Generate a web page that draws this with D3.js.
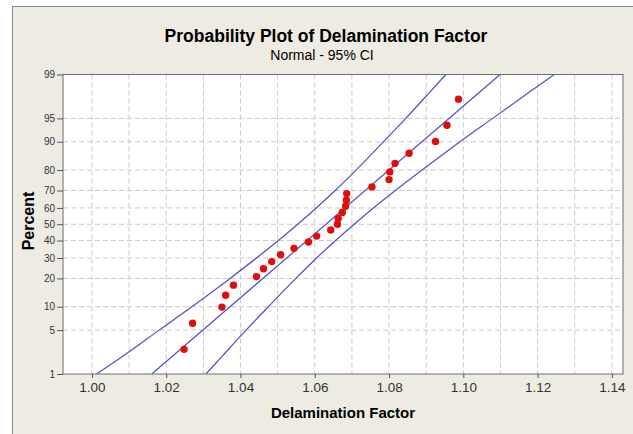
<!DOCTYPE html>
<html>
<head>
<meta charset="utf-8">
<script src="https://cdn.jsdelivr.net/npm/d3@7"></script>
<style>
  body { margin: 0; background: #fff; }
  text { font-family: "Liberation Sans", Arial, sans-serif; }
</style>
</head>
<body>
<div id="chart"></div>
<script>
const delam = [1.0248, 1.0271, 1.0350, 1.0360, 1.0381, 1.0443, 1.0462, 1.0484, 1.0508,
               1.0544, 1.0583, 1.0605, 1.0643, 1.0661, 1.0663, 1.0674, 1.0683, 1.0685,
               1.0686, 1.0754, 1.0800, 1.0802, 1.0816, 1.0854, 1.0925, 1.0956, 1.0987];
// percent position of each point
const pointPct = [2.6, 6.2, 9.9, 13.5, 17.2, 20.8, 24.5, 28.1, 31.8, 35.4, 39.1, 42.7, 46.4, 50.0,
                  53.6, 57.3, 61.0, 64.6, 68.3, 71.9, 75.6, 79.2, 82.8, 86.5, 90.1, 93.8, 97.4];

// fitted line ends
const fitPct = [1, 99];
const fitX = [1.0161, 1.1099];

// 95% CI bands
const bandPct = [1, 2, 5, 10, 20, 30, 40, 50, 60, 70, 80, 90, 95, 98, 99];
const lowerX = [1.0012, 1.0082, 1.0181, 1.0269, 1.0372, 1.0443, 1.0502, 1.0554, 1.0604,
                1.0655, 1.0711, 1.0785, 1.0845, 1.0910, 1.0953];
const upperX = [1.0307, 1.0350, 1.0415, 1.0475, 1.0549, 1.0605, 1.0656, 1.0706, 1.0758,
                1.0817, 1.0889, 1.0991, 1.1079, 1.1178, 1.1245];

const yTicks = [1, 5, 10, 20, 30, 40, 50, 60, 70, 80, 90, 95, 99];
const xTicks = [1.00, 1.02, 1.04, 1.06, 1.08, 1.10, 1.12, 1.14];

// inverse normal cdf (Acklam)
function probit(p){
    const a=[-3.969683028665376e+01,2.209460984245205e+02,-2.759285104469687e+02,1.383577518672690e+02,-3.066479806614716e+01,2.506628277459239e+00];
    const b=[-5.447609879822406e+01,1.615858368580409e+02,-1.556989798598866e+02,6.680131188771972e+01,-1.328068155288572e+01];
    const c=[-7.784894002430293e-03,-3.223964580411365e-01,-2.400758277161838e+00,-2.549732539343734e+00,4.374664141464968e+00,2.938163982698783e+00];
    const d=[7.784695709041462e-03,3.224671290700398e-01,2.445134137142996e+00,3.754408661907416e+00];
    let q, r;
    if (p < 0.02425) {
        q = Math.sqrt(-2*Math.log(p));
        return (((((c[0]*q+c[1])*q+c[2])*q+c[3])*q+c[4])*q+c[5])/((((d[0]*q+d[1])*q+d[2])*q+d[3])*q+1);
    }
    if (p > 1-0.02425) {
        q = Math.sqrt(-2*Math.log(1-p));
        return -(((((c[0]*q+c[1])*q+c[2])*q+c[3])*q+c[4])*q+c[5])/((((d[0]*q+d[1])*q+d[2])*q+d[3])*q+1);
    }
    q = p-0.5; r = q*q;
    return (((((a[0]*r+a[1])*r+a[2])*r+a[3])*r+a[4])*r+a[5])*q/(((((b[0]*r+b[1])*r+b[2])*r+b[3])*r+b[4])*r+1);
}

const W = 633, H = 434;
const plot = {left: 63, right: 623, top: 74.5, bottom: 374};

const svg = d3.select("#chart").append("svg")
    .attr("width", W).attr("height", H);

// graph region
svg.append("rect")
    .attr("x", 12.5).attr("y", 6.5)
    .attr("width", 640).attr("height", 440)
    .attr("fill", "#eeebe3")
    .attr("stroke", "#8a8a8a");

// scales
const x = d3.scaleLinear().domain([0.9922, 1.1430]).range([plot.left, plot.right]);
const yZ = d3.scaleLinear().domain([probit(0.01), probit(0.99)]).range([plot.bottom, plot.top]);
const y = p => yZ(probit(p/100));

svg.append("rect")
    .attr("x", plot.left).attr("y", plot.top)
    .attr("width", plot.right-plot.left).attr("height", plot.bottom-plot.top)
    .attr("fill", "#fff");

// grid
const grid = svg.append("g").attr("stroke", "#c9c9c9").attr("stroke-dasharray", "5,3");
grid.selectAll("line.v")
    .data(x.ticks(15))
    .enter().append("line")
    .attr("class", "v")
    .attr("x1", d => x(d)).attr("x2", d => x(d))
    .attr("y1", plot.top).attr("y2", plot.bottom);
grid.selectAll("line.h")
    .data(yTicks.slice(1, -1))
    .enter().append("line")
    .attr("class", "h")
    .attr("x1", plot.left).attr("x2", plot.right)
    .attr("y1", d => y(d)).attr("y2", d => y(d));

svg.append("clipPath").attr("id", "clip")
    .append("rect")
    .attr("x", plot.left).attr("y", plot.top)
    .attr("width", plot.right-plot.left).attr("height", plot.bottom-plot.top);

const lines = svg.append("g").attr("clip-path", "url(#clip)")
    .attr("fill", "none").attr("stroke", "#4f4fc4").attr("stroke-width", 1.2);

const band = d3.line().x(d => x(d[0])).y(d => y(d[1])).curve(d3.curveCatmullRom);
lines.append("path").attr("d", band(lowerX.map((v, i) => [v, bandPct[i]])));
lines.append("path").attr("d", band(upperX.map((v, i) => [v, bandPct[i]])));
lines.append("path").attr("d", band(fitX.map((v, i) => [v, fitPct[i]])));

// points
svg.append("g").selectAll("circle")
    .data(delam)
    .enter().append("circle")
    .attr("cx", d => x(d))
    .attr("cy", (d, i) => y(pointPct[i]))
    .attr("r", 3.7)
    .attr("fill", "#e00d0d");

// frame
svg.append("rect")
    .attr("x", plot.left).attr("y", plot.top)
    .attr("width", plot.right-plot.left).attr("height", plot.bottom-plot.top)
    .attr("fill", "none").attr("stroke", "#6d6d6d");

// axes
const xAxis = d3.axisBottom(x).tickValues(xTicks).tickFormat(d3.format(".2f")).tickSize(4).tickSizeOuter(0);
const gx = svg.append("g")
    .attr("transform", "translate(0," + plot.bottom + ")")
    .call(xAxis);
gx.select(".domain").remove();
gx.selectAll("line").attr("stroke", "#555");
gx.selectAll("text").attr("fill", "#333").style("font-size", "13.5px").attr("dy", "0.85em");

const yAxis = d3.axisLeft(yZ).tickValues(yTicks.map(p => probit(p/100)))
    .tickFormat((d, i) => yTicks[i]).tickSize(6).tickSizeOuter(0);
const gy = svg.append("g")
    .attr("transform", "translate(" + plot.left + ",0)")
    .call(yAxis);
gy.select(".domain").remove();
gy.selectAll("line").attr("stroke", "#555");
gy.selectAll("text").attr("fill", "#333").style("font-size", "10px").attr("x", -8);

// titles
svg.append("text")
    .attr("x", 326).attr("y", 42)
    .attr("text-anchor", "middle")
    .style("font-size", "17.5px").style("font-weight", "bold")
    .text("Probability Plot of Delamination Factor");
svg.append("text")
    .attr("x", 322).attr("y", 60)
    .attr("text-anchor", "middle")
    .style("font-size", "14px")
    .text("Normal - 95% CI");

svg.append("text")
    .attr("x", (plot.left+plot.right)/2).attr("y", 418)
    .attr("text-anchor", "middle")
    .style("font-size", "15px").style("font-weight", "bold")
    .text("Delamination Factor");
svg.append("text")
    .attr("transform", "translate(34,221) rotate(-90)")
    .attr("text-anchor", "middle")
    .style("font-size", "16px").style("font-weight", "bold")
    .text("Percent");
</script>
</body>
</html>
